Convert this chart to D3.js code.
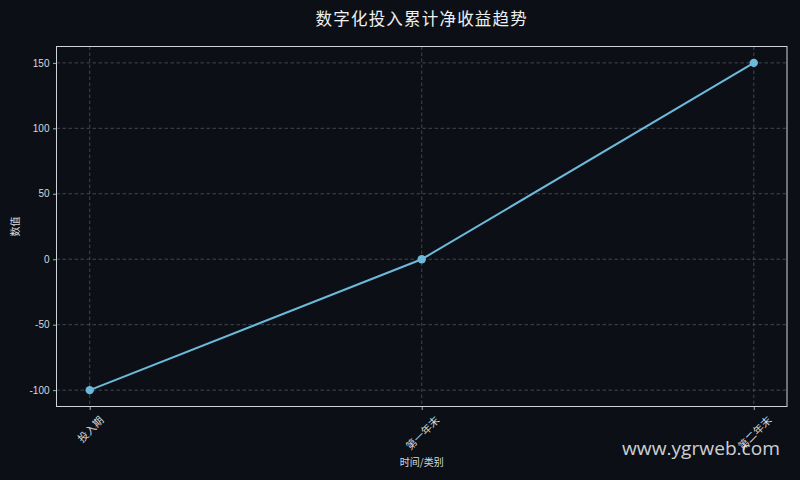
<!DOCTYPE html>
<html>
<head>
<meta charset="utf-8">
<script src="https://cdn.jsdelivr.net/npm/d3@7"></script>
<style>
  html, body { margin: 0; padding: 0; background: #0c1016; }
  svg { display: block; }
</style>
</head>
<body>
<svg id="chart" width="800" height="480"></svg>
<script>
const categories = ["投入期", "第一年末", "第二年末"];
const values = [-100, 0, 150];
const yTicks = [-100, -50, 0, 50, 100, 150];

const title = "数字化投入累计净收益趋势";
const xTitle = "时间/类别";
const yTitle = "数值";

const width = 800;
const height = 480;
const margin = { top: 46.5, right: 13, bottom: 73.5, left: 56.5 };
const innerW = width - margin.left - margin.right;
const innerH = height - margin.top - margin.bottom;

const svg = d3.select("#chart");

svg.append("rect")
    .attr("width", width)
    .attr("height", height)
    .attr("fill", "#0c1016");

const g = svg.append("g")
    .attr("transform", `translate(${margin.left}, ${margin.top})`);

// matplotlib-like 5% padding around the data
const x = d3.scaleLinear()
    .domain([-0.1, categories.length - 1 + 0.1])
    .range([0, innerW]);

const y = d3.scaleLinear()
    .domain([-112.5, 162.5])
    .range([innerH, 0]);

// grid
g.append("g")
    .selectAll("line")
    .data(yTicks)
    .enter()
    .append("line")
    .attr("x1", 0)
    .attr("x2", innerW)
    .attr("y1", (d) => y(d))
    .attr("y2", (d) => y(d))
    .attr("stroke", "#50545a")
    .attr("stroke-width", 0.8)
    .attr("stroke-dasharray", "3.5,2.5");

g.append("g")
    .selectAll("line")
    .data(categories)
    .enter()
    .append("line")
    .attr("x1", (d, i) => x(i))
    .attr("x2", (d, i) => x(i))
    .attr("y1", 0)
    .attr("y2", innerH)
    .attr("stroke", "#50545a")
    .attr("stroke-width", 0.8)
    .attr("stroke-dasharray", "3.5,2.5");

// axes
const yAxis = g.append("g")
    .call(d3.axisLeft(y)
        .tickValues(yTicks)
        .tickFormat((d) => String(d))
        .tickSize(3.5)
        .tickPadding(3.5));

const xAxis = g.append("g")
    .attr("transform", `translate(0, ${innerH})`)
    .call(d3.axisBottom(x)
        .tickValues(d3.range(categories.length))
        .tickFormat((d) => categories[d])
        .tickSize(3.5));

[xAxis, yAxis].forEach((ax) => {
    ax.select(".domain").remove();
    ax.selectAll(".tick line").attr("stroke", "#cfd3d8").attr("stroke-width", 0.8);
});

yAxis.selectAll("text")
    .attr("fill", "#d6d9dd")
    .style("font-family", "'Liberation Sans', Arial, sans-serif")
    .style("font-size", "10px");

xAxis.selectAll("text")
    .attr("fill", "#d6d9dd")
    .style("font-family", "'Noto Sans CJK SC', sans-serif")
    .style("font-size", "10.5px")
    .attr("y", null)
    .attr("dy", null)
    .attr("text-anchor", "middle")
    .attr("dominant-baseline", "central")
    .attr("transform", function () {
        const w = this.getComputedTextLength();
        const h = 12;
        const half = (w + h) / (2 * Math.SQRT2);
        return `translate(0, ${7 + half}) rotate(-45)`;
    });

// frame
g.append("rect")
    .attr("width", innerW)
    .attr("height", innerH)
    .attr("fill", "none")
    .attr("stroke", "#d0d3d7")
    .attr("stroke-width", 1);

// line + markers
const line = d3.line()
    .x((d, i) => x(i))
    .y((d) => y(d));

g.append("path")
    .datum(values)
    .attr("d", line)
    .attr("fill", "none")
    .attr("stroke", "#6cb9da")
    .attr("stroke-width", 2);

g.selectAll("circle.pt")
    .data(values)
    .enter()
    .append("circle")
    .attr("class", "pt")
    .attr("cx", (d, i) => x(i))
    .attr("cy", (d) => y(d))
    .attr("r", 4.2)
    .attr("fill", "#6cb9da");

// titles
svg.append("text")
    .attr("x", margin.left + innerW / 2)
    .attr("y", 25)
    .attr("text-anchor", "middle")
    .attr("fill", "#eef0f2")
    .style("font-family", "'Noto Sans CJK SC', sans-serif")
    .style("font-size", "16.5px")
    .style("font-weight", "400")
    .style("letter-spacing", "1.2px")
    .text(title);

svg.append("text")
    .attr("x", margin.left + innerW / 2)
    .attr("y", 466)
    .attr("text-anchor", "middle")
    .attr("fill", "#d6d9dd")
    .style("font-family", "'Noto Sans CJK SC', sans-serif")
    .style("font-size", "10px")
    .text(xTitle);

svg.append("text")
    .attr("transform", `translate(19, ${margin.top + innerH / 2}) rotate(-90)`)
    .attr("text-anchor", "middle")
    .attr("fill", "#d6d9dd")
    .style("font-family", "'Noto Sans CJK SC', sans-serif")
    .style("font-size", "10px")
    .text(yTitle);

// watermark
svg.append("text")
    .attr("x", 780)
    .attr("y", 455)
    .attr("text-anchor", "end")
    .attr("fill", "#e6e8ea")
    .attr("fill-opacity", 0.9)
    .style("font-family", "'Open Sans', 'DejaVu Sans', sans-serif")
    .style("font-size", "19px")
    .attr("textLength", 158)
    .attr("lengthAdjust", "spacingAndGlyphs")
    .text("www.ygrweb.com");
</script>
</body>
</html>
